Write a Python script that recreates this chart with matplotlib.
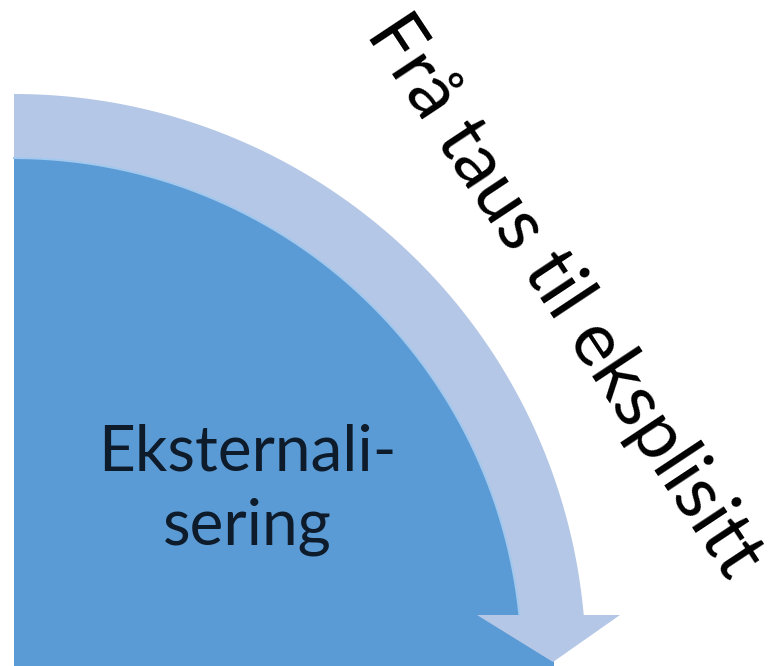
import numpy as np
import matplotlib.pyplot as plt
from matplotlib.patches import Polygon, Rectangle

# geometry (pixel coords, y down)
centre = (14, 666)
disc_radius = 540
band_inner = 508
band_outer = 572
shaft_end_y = 615
head_left_x = 477
head_right_x = 620
head_tip = (553, 662)

centre_text = "Eksternali-\nsering"
arc_text = "Frå taus til eksplisitt"

dark_blue = "#5b9bd5"
light_blue = "#b4c7e7"


def arc_points(r, t0, t1, n=200):
    t = np.linspace(np.radians(t0), np.radians(t1), n)
    return np.column_stack([centre[0] + r * np.cos(t), centre[1] - r * np.sin(t)])


fig = plt.figure(figsize=(7.77, 6.66), dpi=100)
ax = fig.add_axes([0, 0, 1, 1])
ax.set_xlim(0, 777)
ax.set_ylim(666, 0)
ax.axis("off")

# dark quarter disc
disc = np.vstack([[centre], arc_points(disc_radius, 0, 90)])
ax.add_patch(Polygon(disc, closed=True, facecolor=dark_blue, edgecolor="none"))

# curved arrow band
dy = centre[1] - shaft_end_y
t_out = np.degrees(np.arcsin(dy / band_outer))
t_in = np.degrees(np.arcsin(dy / band_inner))
outer = arc_points(band_outer, 90, t_out)
inner = arc_points(band_inner, t_in, 90)
head = np.array([[head_right_x, shaft_end_y], head_tip, [head_left_x, shaft_end_y]])
arrow = np.vstack([outer, head, inner])
ax.add_patch(Polygon(arrow, closed=True, facecolor=light_blue, edgecolor="none"))
edge = arc_points(band_inner, t_in, 90)
ax.plot(edge[:, 0], edge[:, 1], color="#a3c8ee", lw=1.5)

ax.text(247, 490, centre_text, ha="center", va="center", fontsize=46,
        family="Lato", color="#0d1b2a", linespacing=1.35)

# the top of the "F" is cut off in the original
clip = Rectangle((0, 13), 777, 666, transform=ax.transData, visible=False)
ax.add_patch(clip)
t = ax.text(365, 34, arc_text, ha="left", va="baseline", fontsize=54,
            family="Lato", color="black", rotation=-56.5, rotation_mode="anchor")
t.set_clip_path(clip)

fig.savefig("out.png", dpi=100)
